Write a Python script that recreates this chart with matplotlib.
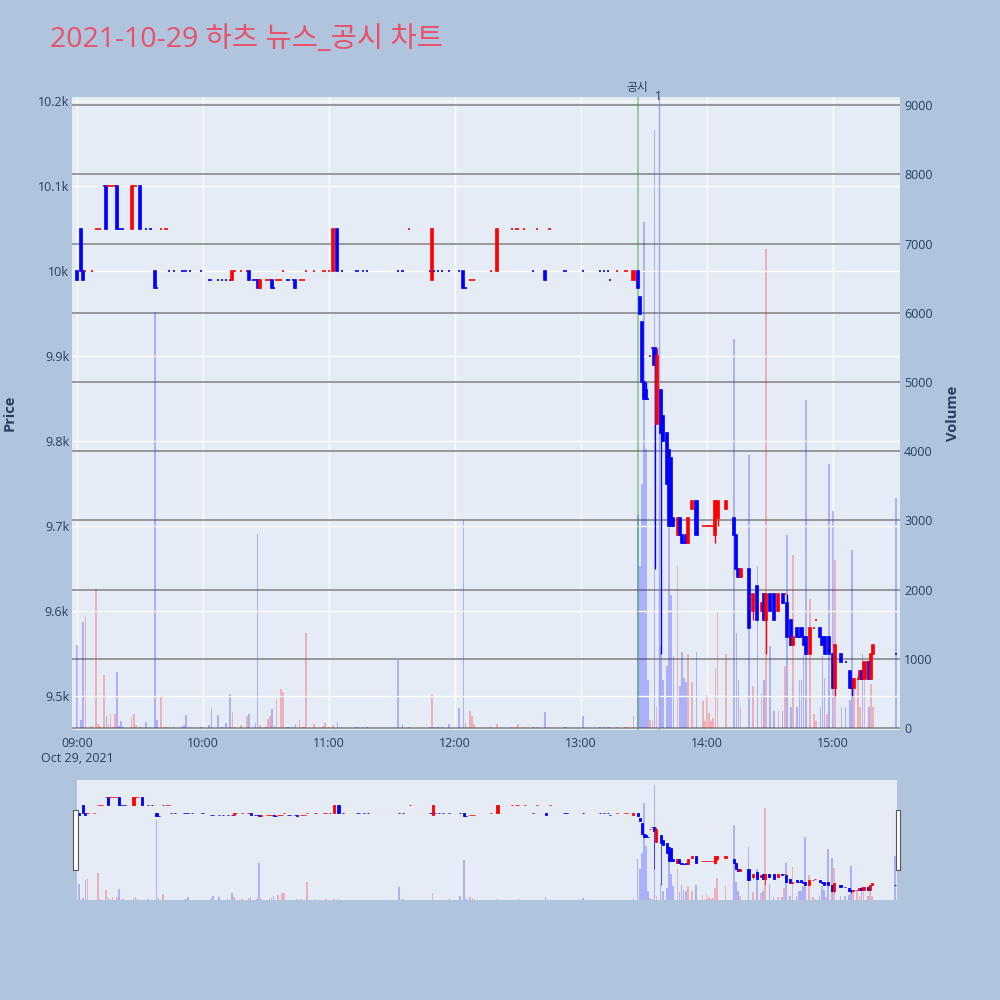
import matplotlib
matplotlib.use('Agg')
import matplotlib.pyplot as plt
from matplotlib.patches import Rectangle

plt.rcParams['font.family'] = ['Open Sans', 'Noto Sans CJK KR', 'DejaVu Sans']

title = '2021-10-29 하츠 뉴스_공시 차트'

# minutes after 09:00
minutes = [0, 2, 3, 4, 7, 9, 10, 11, 13, 14,
           15, 16, 17, 18, 19, 20, 21, 22, 26, 27,
           28, 30, 33, 35, 37, 38, 40, 42, 43, 44,
           46, 50, 51, 52, 54, 59, 63, 64, 67, 69,
           71, 73, 74, 75, 78, 81, 82, 84, 85, 86,
           87, 90, 91, 92, 93, 94, 95, 96, 97, 98,
           100, 101, 103, 104, 106, 107, 108, 109, 113, 117,
           118, 120, 122, 124, 126, 133, 134, 136, 138, 153,
           155, 158, 168, 169, 170, 172, 174, 177, 182, 184,
           185, 187, 188, 189, 197, 200, 207, 209, 210, 213,
           217, 219, 223, 225, 232, 233, 241, 249, 251, 253,
           254, 257, 261, 262, 265, 267, 268, 269, 270, 271,
           272, 273, 274, 275, 276, 278, 279, 281, 282, 283,
           284, 286, 287, 288, 289, 290, 291, 293, 295, 298,
           299, 300, 301, 302, 303, 304, 305, 309, 313, 314,
           315, 316, 320, 322, 324, 326, 327, 328, 330, 332,
           334, 336, 337, 338, 340, 341, 343, 344, 345, 346,
           347, 349, 351, 352, 354, 355, 356, 357, 358, 360,
           361, 364, 366, 368, 369, 370, 372, 373, 374, 375,
           377, 378, 379, 390]

opens = [10000, 10050, 10000, 10000, 10000, 10050, 10050, 10050, 10100, 10100,
         10100, 10100, 10100, 10100, 10100, 10050, 10050, 10050, 10050, 10100,
         10100, 10100, 10050, 10050, 10000, 9980, 10050, 10050, 10050, 10000,
         10000, 10000, 10000, 10000, 10000, 10000, 9990, 9990, 9990, 9990,
         9990, 9990, 9990, 10000, 10000, 10000, 10000, 9990, 9990, 9990,
         9980, 9990, 9990, 9990, 9990, 9980, 9990, 9990, 9990, 10000,
         9990, 9990, 9990, 9990, 9990, 9990, 9990, 10000, 10000, 10000,
         10000, 10000, 10000, 10050, 10000, 10000, 10000, 10000, 10000, 10000,
         10000, 10050, 10000, 9990, 10000, 10000, 10000, 10000, 10000, 10000,
         9980, 9990, 9990, 9990, 10000, 10000, 10050, 10050, 10050, 10050,
         10000, 10050, 10000, 10050, 10000, 10000, 10000, 10000, 10000, 10000,
         9990, 10000, 10000, 10000, 9990, 10000, 9970, 9940, 9870, 9860,
         9850, 9900, 9910, 9910, 9820, 9860, 9830, 9810, 9790, 9780,
         9710, 9690, 9710, 9690, 9680, 9690, 9680, 9720, 9730, 9700,
         9700, 9700, 9700, 9700, 9700, 9690, 9710, 9720, 9710, 9690,
         9650, 9640, 9650, 9600, 9630, 9600, 9620, 9590, 9620, 9620,
         9600, 9620, 9620, 9610, 9590, 9560, 9580, 9570, 9580, 9570,
         9570, 9550, 9580, 9590, 9580, 9570, 9570, 9560, 9570, 9550,
         9510, 9550, 9540, 9530, 9520, 9510, 9520, 9520, 9530, 9520,
         9540, 9520, 9550, 9550]

highs = [10000, 10050, 10000, 10000, 10000, 10050, 10050, 10050, 10100, 10100,
         10100, 10100, 10100, 10100, 10100, 10050, 10050, 10050, 10100, 10100,
         10100, 10100, 10050, 10050, 10000, 9980, 10050, 10050, 10050, 10000,
         10000, 10000, 10000, 10000, 10000, 10000, 9990, 9990, 9990, 9990,
         9990, 9990, 10000, 10000, 10000, 10000, 10000, 9990, 9990, 9990,
         9990, 9990, 9990, 9990, 9990, 9980, 9990, 9990, 9990, 10000,
         9990, 9990, 9990, 9990, 9990, 9990, 9990, 10000, 10000, 10000,
         10000, 10000, 10050, 10050, 10000, 10000, 10000, 10000, 10000, 10000,
         10000, 10050, 10000, 10050, 10000, 10000, 10000, 10000, 10000, 10000,
         9980, 9990, 9990, 9990, 10000, 10050, 10050, 10050, 10050, 10050,
         10000, 10050, 10000, 10050, 10000, 10000, 10000, 10000, 10000, 10000,
         9990, 10000, 10000, 10000, 10000, 10000, 9970, 9940, 9870, 9870,
         9850, 9900, 9910, 9910, 9910, 9860, 9830, 9810, 9790, 9780,
         9710, 9710, 9710, 9690, 9680, 9690, 9710, 9730, 9730, 9700,
         9700, 9700, 9700, 9700, 9700, 9730, 9730, 9730, 9710, 9690,
         9650, 9650, 9650, 9620, 9630, 9610, 9620, 9620, 9620, 9620,
         9620, 9620, 9620, 9620, 9590, 9570, 9580, 9570, 9580, 9570,
         9570, 9580, 9580, 9590, 9580, 9570, 9570, 9560, 9570, 9550,
         9560, 9550, 9540, 9530, 9520, 9520, 9520, 9530, 9530, 9540,
         9540, 9550, 9560, 9550]

lows = [9990, 10000, 9990, 10000, 10000, 10050, 10050, 10050, 10100, 10050,
        10100, 10100, 10100, 10100, 10050, 10050, 10050, 10050, 10050, 10100,
        10100, 10050, 10050, 10050, 9980, 9980, 10050, 10050, 10050, 10000,
        10000, 10000, 10000, 10000, 10000, 10000, 9990, 9990, 9990, 9990,
        9990, 9990, 9990, 10000, 10000, 10000, 9990, 9990, 9990, 9980,
        9980, 9990, 9990, 9990, 9980, 9980, 9990, 9990, 9990, 10000,
        9990, 9990, 9990, 9980, 9990, 9990, 9990, 10000, 10000, 10000,
        10000, 10000, 10000, 10000, 10000, 10000, 10000, 10000, 10000, 10000,
        10000, 10050, 10000, 9990, 10000, 10000, 10000, 10000, 10000, 9980,
        9980, 9990, 9990, 9990, 10000, 10000, 10050, 10050, 10050, 10050,
        10000, 10050, 9990, 10050, 10000, 10000, 10000, 10000, 10000, 10000,
        9990, 10000, 10000, 10000, 9990, 9980, 9950, 9870, 9850, 9850,
        9850, 9900, 9910, 9650, 9820, 9550, 9800, 9750, 9700, 9700,
        9700, 9690, 9690, 9680, 9680, 9680, 9680, 9720, 9690, 9700,
        9700, 9700, 9700, 9700, 9700, 9680, 9700, 9720, 9690, 9650,
        9640, 9640, 9580, 9590, 9590, 9600, 9590, 9550, 9600, 9590,
        9600, 9610, 9620, 9570, 9560, 9560, 9570, 9570, 9570, 9560,
        9550, 9550, 9580, 9590, 9570, 9560, 9550, 9560, 9550, 9510,
        9500, 9540, 9540, 9510, 9500, 9510, 9520, 9520, 9520, 9520,
        9520, 9520, 9550, 9550]

closes = [9990, 10000, 9990, 10000, 10000, 10050, 10050, 10050, 10100, 10050,
          10100, 10100, 10100, 10100, 10050, 10050, 10050, 10050, 10100, 10100,
          10100, 10050, 10050, 10050, 9980, 9980, 10050, 10050, 10050, 10000,
          10000, 10000, 10000, 10000, 10000, 10000, 9990, 9990, 9990, 9990,
          9990, 9990, 10000, 10000, 10000, 10000, 9990, 9990, 9990, 9980,
          9990, 9990, 9990, 9990, 9980, 9980, 9990, 9990, 9990, 10000,
          9990, 9990, 9990, 9980, 9990, 9990, 9990, 10000, 10000, 10000,
          10000, 10000, 10050, 10000, 10000, 10000, 10000, 10000, 10000, 10000,
          10000, 10050, 10000, 10050, 10000, 10000, 10000, 10000, 10000, 9980,
          9980, 9990, 9990, 9990, 10000, 10050, 10050, 10050, 10050, 10050,
          10000, 10050, 9990, 10050, 10000, 10000, 10000, 10000, 10000, 10000,
          9990, 10000, 10000, 10000, 10000, 9980, 9950, 9870, 9850, 9850,
          9850, 9900, 9910, 9890, 9900, 9810, 9800, 9750, 9700, 9700,
          9700, 9710, 9690, 9680, 9680, 9680, 9710, 9730, 9690, 9700,
          9700, 9700, 9700, 9700, 9700, 9730, 9730, 9730, 9690, 9650,
          9640, 9650, 9580, 9620, 9590, 9610, 9590, 9620, 9600, 9590,
          9620, 9610, 9620, 9570, 9560, 9570, 9570, 9570, 9570, 9560,
          9550, 9580, 9580, 9590, 9570, 9560, 9550, 9560, 9550, 9510,
          9560, 9540, 9540, 9510, 9510, 9520, 9520, 9530, 9520, 9540,
          9520, 9550, 9560, 9550]

volumes = [1200, 120, 1530, 1600, 30, 2010, 60, 30, 770, 180,
           60, 200, 20, 200, 810, 30, 100, 20, 160, 200,
           40, 10, 90, 20, 6010, 120, 460, 10, 10, 10,
           10, 10, 40, 190, 10, 10, 40, 290, 190, 10,
           70, 490, 230, 10, 40, 170, 200, 20, 70, 2800,
           50, 10, 130, 170, 270, 30, 400, 20, 560, 520,
           20, 20, 20, 60, 110, 10, 10, 1370, 60, 30,
           70, 20, 40, 80, 20, 10, 10, 10, 10, 980,
           60, 10, 10, 490, 10, 10, 20, 60, 290, 3010,
           70, 250, 170, 60, 10, 60, 10, 10, 60, 20,
           10, 10, 230, 10, 10, 10, 170, 10, 10, 10,
           10, 10, 10, 10, 170, 3080, 2340, 3530, 7310, 4030,
           690, 120, 100, 8640, 300, 1180, 700, 900, 3320, 1920,
           1040, 2340, 600, 1100, 720, 660, 1070, 660, 1100, 390,
           100, 480, 220, 100, 150, 870, 1680, 1070, 5620, 1370,
           690, 300, 3950, 610, 2340, 500, 700, 6920, 1180, 250,
           250, 250, 900, 2790, 300, 2500, 300, 700, 700, 1070,
           4740, 1860, 200, 100, 300, 1040, 720, 200, 3820, 3140,
           2430, 300, 300, 400, 2570, 610, 770, 300, 1070, 770,
           300, 640, 300, 3320]

event_minutes = [267, 277]
event_labels = ['공시', '1']
hour_ticks = [0, 60, 120, 180, 240, 300, 360]
hour_labels = ['09:00\nOct 29, 2021', '10:00', '11:00', '12:00', '13:00', '14:00', '15:00']
price_ticks = [9500, 9600, 9700, 9800, 9900, 10000, 10100, 10200]
volume_ticks = [0, 1000, 2000, 3000, 4000, 5000, 6000, 7000, 8000, 9000]

RED = '#ff0000'
BLUE = '#0000ff'
TXT = '#2a3f5f'
BG = '#b0c4de'
PLOT_BG = '#e5ecf6'

# candle direction (flat candles follow the previous close)
up = []
prev_c = None
prev_up = False
for o, c in zip(opens, closes):
    if c > o:
        u = True
    elif c < o:
        u = False
    elif prev_c is not None and c > prev_c:
        u = True
    elif prev_c is not None and c < prev_c:
        u = False
    else:
        u = prev_up
    up.append(u)
    prev_c = c
    prev_up = u
cols = [RED if u else BLUE for u in up]
bodies = [c - o for o, c in zip(opens, closes)]


def draw(ax_price, ax_vol, body_w, lw, vol_w):
    ax_vol.bar(minutes, volumes, width=vol_w, color=cols, alpha=0.25, linewidth=0, zorder=2)
    ax_price.vlines(minutes, lows, highs, colors=cols, linewidth=lw * 0.8, zorder=3)
    ax_price.bar(minutes, bodies, bottom=opens, width=body_w, color=cols,
                 edgecolor=cols, linewidth=lw, zorder=4)


fig = plt.figure(figsize=(10, 10), dpi=100, facecolor=BG)

# main chart: volume axes underneath, price axes on top
ax_v = fig.add_axes([0.072, 0.27, 0.828, 0.633])
ax_v.set_facecolor(PLOT_BG)
ax_p = ax_v.twinx()
draw(ax_p, ax_v, 1.0, 1.2, 0.8)

ax_v.set_xlim(-2.4, 391.9)
ax_v.set_ylim(-29, 9118)
ax_p.set_ylim(9460, 10205)

ax_v.yaxis.tick_right()
ax_p.yaxis.tick_left()
ax_v.set_yticks(volume_ticks)
ax_v.set_yticklabels([str(v) for v in volume_ticks])
ax_p.set_yticks(price_ticks)
ax_p.set_yticklabels([f'{p / 1000:g}k' for p in price_ticks])
ax_v.set_xticks(hour_ticks)
ax_v.set_xticklabels(hour_labels)

ax_v.set_axisbelow(True)
ax_v.grid(axis='y', color='#8a8a8a', linewidth=1.2)
ax_v.grid(axis='x', color='white', linewidth=1)
ax_p.grid(axis='y', color='white', linewidth=1, zorder=0)
ax_p.set_axisbelow(True)

for a in (ax_v, ax_p):
    for s in a.spines.values():
        s.set_visible(False)
    a.tick_params(length=0, labelsize=9, colors=TXT)
ax_v.tick_params(axis='y', pad=3)
ax_p.tick_params(axis='y', pad=2)
ax_v.tick_params(axis='x', pad=5)

# news / disclosure markers
ax_p.axvline(event_minutes[0], color='#2ca02c', alpha=0.4, linewidth=1.5, zorder=1)
ax_p.axvline(event_minutes[1], color='#7777ee', alpha=0.6, linewidth=1, zorder=1)
ax_p.annotate(event_labels[0], xy=(event_minutes[0], 1), xycoords=('data', 'axes fraction'),
              xytext=(0, 2), textcoords='offset points', ha='center', va='bottom',
              fontsize=8.5, color=TXT)
ax_p.annotate(event_labels[1], xy=(event_minutes[1], 1), xycoords=('data', 'axes fraction'),
              xytext=(0, 0), textcoords='offset points', ha='center', va='center',
              fontsize=8.5, color=TXT)

fig.text(0.05, 0.96, title, fontsize=20.5, color='#e9506a', va='center', ha='left')
fig.text(0.010, 0.587, 'Price', rotation=90, fontsize=10.5, fontweight='bold',
         color=TXT, va='center', ha='center')
fig.text(0.953, 0.587, 'Volume', rotation=90, fontsize=10.5, fontweight='bold',
         color=TXT, va='center', ha='center')

# range slider
ax_s = fig.add_axes([0.077, 0.10, 0.82, 0.12])
ax_s.set_facecolor(PLOT_BG)
ax_s2 = ax_s.twinx()
draw(ax_s2, ax_s, 1.0, 0.6, 0.8)
ax_s.set_xlim(-1, 391)
ax_s.set_ylim(0, 9020)
ax_s2.set_ylim(9456, 10206)
for a in (ax_s, ax_s2):
    a.set_xticks([])
    a.set_yticks([])
    for s in a.spines.values():
        s.set_visible(False)

for hx in (0.073, 0.8955):
    fig.patches.append(Rectangle((hx, 0.13), 0.0045, 0.06, transform=fig.transFigure,
                                 facecolor='white', edgecolor='#555555', linewidth=0.8))

fig.savefig('out.png', dpi=100, facecolor=BG)
